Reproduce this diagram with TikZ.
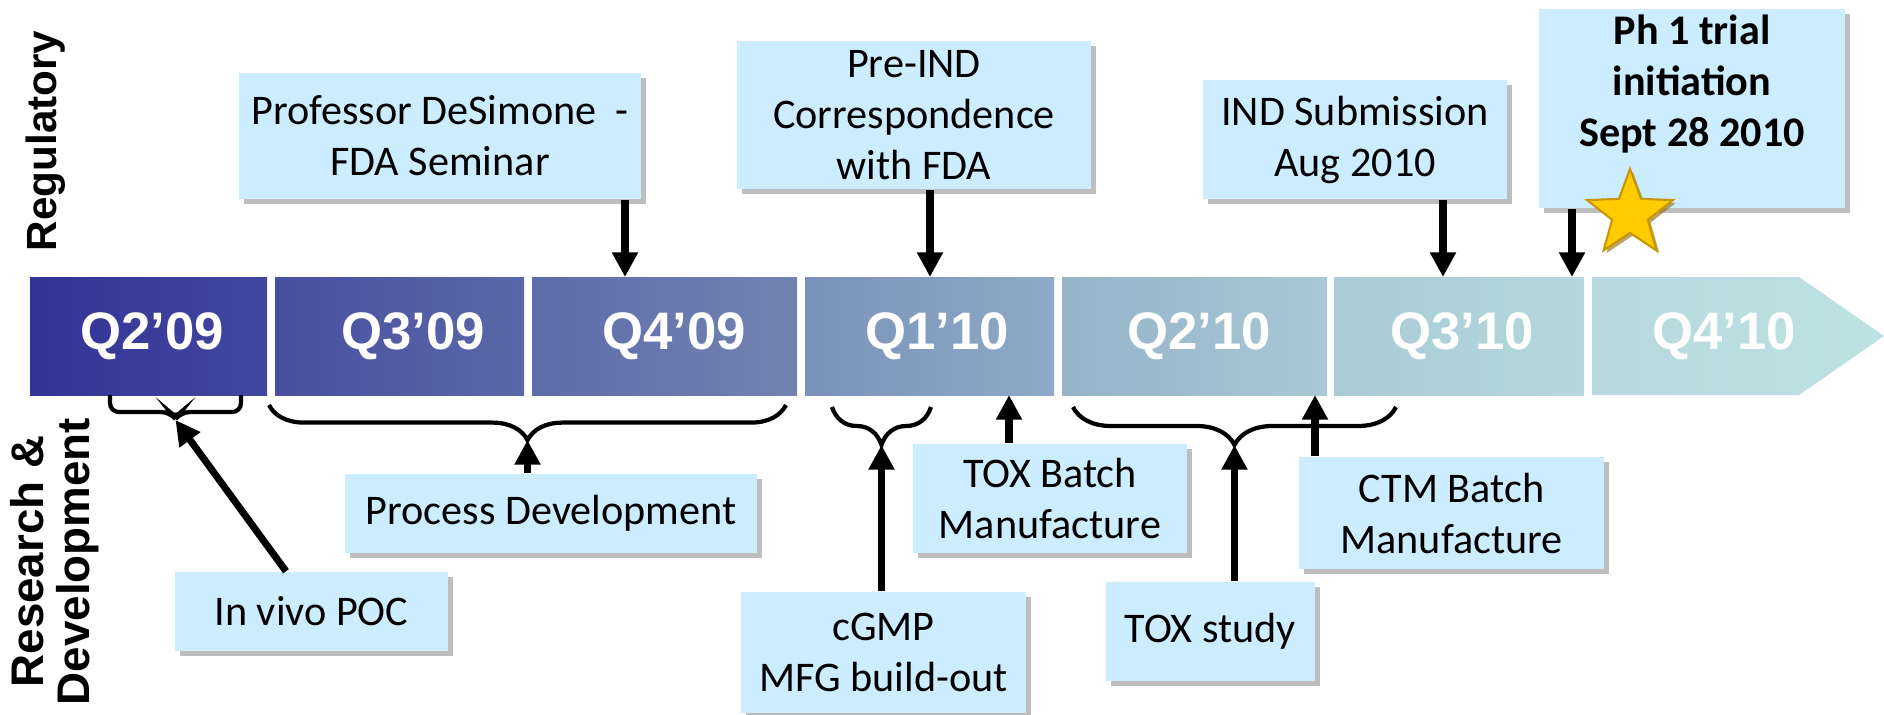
\documentclass[tikz,border=0pt]{standalone}
\usepackage{fontspec}
\setmainfont{Carlito}
\newfontfamily\arialfont{Liberation Sans}
\usetikzlibrary{arrows.meta,decorations.pathreplacing,shadows,shapes.geometric,positioning}

\definecolor{evblue}{RGB}{204,236,255}
\definecolor{evshadow}{RGB}{190,190,190}
\definecolor{stargold}{RGB}{255,204,0}
\definecolor{staredge}{RGB}{200,150,0}
\definecolor{qa}{RGB}{51,51,151}   \definecolor{qb}{RGB}{65,71,158}
\definecolor{qc}{RGB}{72,79,160}   \definecolor{qd}{RGB}{90,104,168}
\definecolor{qe}{RGB}{94,108,169}  \definecolor{qf}{RGB}{114,131,178}
\definecolor{qg}{RGB}{122,146,185} \definecolor{qh}{RGB}{142,170,198}
\definecolor{qi}{RGB}{148,180,201} \definecolor{qj}{RGB}{168,200,213}
\definecolor{qk}{RGB}{169,203,214} \definecolor{ql}{RGB}{180,216,221}
\definecolor{qm}{RGB}{182,217,222} \definecolor{qn}{RGB}{189,226,226}

\tikzset{
  evbox/.style={fill=evblue, align=center, inner sep=0pt,
    font=\fontsize{12}{14.5}\selectfont,
    drop shadow={shadow xshift=1.4pt, shadow yshift=-1.4pt, fill=evshadow, opacity=1}},
  evarrow/.style={-{Triangle[length=7pt,width=7pt]}, line width=2pt},
  rdbrace/.style={decorate, decoration={brace, amplitude=#1}, line width=1.2pt},
  qlabel/.style={text=white, font=\arialfont\bfseries\fontsize{15}{18}\selectfont},
  sidelabel/.style={rotate=90, align=center, font=\arialfont\bfseries\fontsize{#1}{#1}\selectfont}
}

\begin{document}
\begin{tikzpicture}[x=0.01cm, y=-0.01cm]
  \useasboundingbox (0,0) rectangle (1884,714);

  % quarter band
  \foreach \xa/\xb/\cl/\cr/\tx/\txt/\nm in {30/267/qa/qb/152/Q2’09/q1,
      275/524/qc/qd/413/Q3’09/q2, 532/797/qe/qf/674/Q4’09/q3,
      805/1054/qg/qh/937/Q1’10/q4, 1062/1327/qi/qj/1199/Q2’10/q5,
      1334/1584/qk/ql/1462/Q3’10/q6}{
    \shade[left color=\cl, right color=\cr] (\xa,277) rectangle (\xb,395);
    \node[qlabel] (\nm) at (\tx,336) {\txt};
  }
  \shade[left color=qm, right color=qn] (1592,277) -- (1799,277) -- (1884,336)
    -- (1799,395) -- (1592,395) -- cycle;
  \node[qlabel] (q7) at (1724,336) {Q4’10};

  \node[sidelabel=12] (reg) at (46,141) {Regulatory};
  \node[sidelabel=13] (rnd) at (54.5,561.5) {Research \&\\Development};

  % regulatory milestones
  \node[evbox, minimum width=4.02cm, minimum height=1.26cm] (prof) at (440,136)
    {Professor DeSimone~ -\\FDA Seminar};
  \node[evbox, minimum width=3.54cm, minimum height=1.48cm] (preind) at (914,115)
    {Pre-IND\\Correspondence\\with FDA};
  \node[evbox, minimum width=3.04cm, minimum height=1.19cm] (indsub) at (1355,139.5)
    {IND Submission\\Aug 2010};
  \node[evbox, minimum width=3.06cm, minimum height=1.99cm] (ph1) at (1692,108.5) {};
  \node[align=center, anchor=north, inner sep=0pt,
    font=\bfseries\fontsize{12}{14.5}\selectfont] (ph1txt) at ([yshift=-0.06cm]ph1.north)
    {Ph 1 trial\\initiation\\Sept 28 2010};
  \node[star, star points=5, star point ratio=2.4, minimum size=0.9cm, inner sep=0pt,
    fill=stargold, draw=staredge, line width=0.6pt,
    drop shadow={shadow xshift=0.8pt, shadow yshift=-0.8pt, fill=staredge!70!black, opacity=0.6}]
    (star) at (1630,214) {};

  \coordinate (a1) at (625,277);
  \coordinate (a2) at (930,277);
  \coordinate (a3) at (1443,277);
  \coordinate (a4) at (1572,277);
  \draw[evarrow] (prof.south -| a1) -- (a1);
  \draw[evarrow] (preind.south -| a2) -- (a2);
  \draw[evarrow] (indsub.south -| a3) -- (a3);
  \draw[evarrow] (ph1.south -| a4) -- (a4);

  % research and development
  \node[evbox, minimum width=4.12cm, minimum height=0.79cm] (procdev) at (551,513.5)
    {Process Development};
  \node[evbox, minimum width=2.73cm, minimum height=0.79cm] (invivo) at (311.5,611.5)
    {In vivo POC};
  \node[evbox, minimum width=2.74cm, minimum height=1.09cm] (toxbatch) at (1050,498.5)
    {TOX Batch\\Manufacture};
  \node[evbox, minimum width=2.85cm, minimum height=1.21cm] (cgmp) at (883.5,652.5)
    {cGMP\\MFG build-out};
  \node[evbox, minimum width=2.09cm, minimum height=0.99cm] (toxstudy) at (1210.5,631.5)
    {TOX study};
  \node[evbox, minimum width=3.05cm, minimum height=1.12cm] (ctm) at (1451.5,513)
    {CTM Batch\\Manufacture};

  \draw[line width=1.2pt, rounded corners=2.5pt] (110,395) |- (170,412) -- (175.5,419)
    -- (181,412) -| (241,395);
  \draw[rdbrace=10pt] (786,405) -- (269,405);
  \draw[rdbrace=10.8pt] (931,407) -- (832,407);
  \draw[rdbrace=10.8pt] (1396,407) -- (1073,407);
  \coordinate (t1) at (175.5,420);
  \coordinate (t2) at (527.5,440);
  \coordinate (t3) at (881.5,445);
  \coordinate (t4) at (1234.5,445);
  \coordinate (a5) at (1009,395);
  \coordinate (a6) at (1315,395);

  \draw[evarrow] ([xshift=-0.255cm]invivo.north) -- (t1);
  \draw[evarrow] (procdev.north -| t2) -- (t2);
  \draw[evarrow] (cgmp.north -| t3) -- (t3);
  \draw[evarrow] (toxstudy.north -| t4) -- (t4);
  \draw[evarrow] (toxbatch.north -| a5) -- (a5);
  \draw[evarrow] (ctm.north -| a6) -- (a6);
\end{tikzpicture}
\end{document}
